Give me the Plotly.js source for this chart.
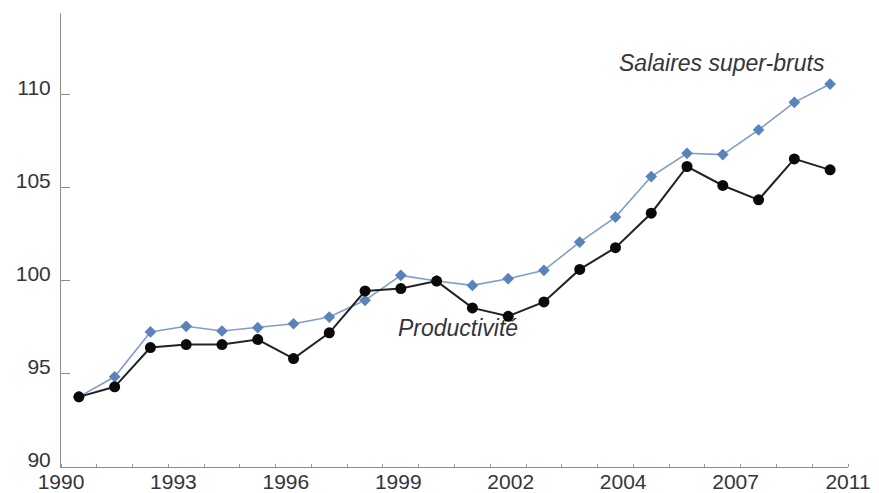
<!DOCTYPE html>
<html>
<head>
<meta charset="utf-8">
<script src="https://cdn.plot.ly/plotly-3.0.1.min.js"></script>
<style>html,body{margin:0;padding:0;background:#fff;}#chart{width:879px;height:493px;}</style>
</head>
<body>
<div id="chart"></div>
<script>
// Data
const years = [1990,1991,1992,1993,1994,1995,1996,1997,1998,1999,2000,2001,2002,2003,2004,2005,2006,2007,2008,2009,2010,2011];
const productivite = [93.77,94.31,96.42,96.58,96.58,96.85,95.83,97.21,99.46,99.59,99.99,98.55,98.10,98.87,100.62,101.79,103.64,106.15,105.13,104.36,106.56,105.97];
const salaires = [93.77,94.85,97.26,97.56,97.31,97.49,97.70,98.06,98.96,100.30,100.00,99.76,100.12,100.57,102.09,103.43,105.61,106.86,106.79,108.12,109.60,110.58];
const xTickLabels = ['1990','1993','1996','1999','2002','2004','2007','2011'];
const yTickValues = [90,95,100,105,110];
const seriesNames = ['Salaires super-bruts','Productivité'];

const xStart = years[0] - 0.5, xEnd = years[years.length-1] + 0.5;
const xTickPos = xTickLabels.map((_, i) => xStart + i * (xEnd - xStart) / (xTickLabels.length - 1));

const textColor = '#33343f';
const fontFam = '"Liberation Sans", Arial, sans-serif';

const traces = [
  {
    x: years, y: salaires, name: seriesNames[0], type: 'scatter', mode: 'lines+markers',
    line: {color: '#7f9dcb', width: 1.6},
    marker: {symbol: 'diamond', size: 9, color: '#5a83bb'},
    cliponaxis: false
  },
  {
    x: years, y: productivite, name: seriesNames[1], type: 'scatter', mode: 'lines+markers',
    line: {color: '#222222', width: 2},
    marker: {symbol: 'circle', size: 11, color: '#0a0a0a'},
    cliponaxis: false
  }
];

const layout = {
  width: 879, height: 493,
  margin: {l: 61, r: 31, t: 13, b: 26, pad: 0},
  paper_bgcolor: '#ffffff', plot_bgcolor: '#ffffff',
  showlegend: false,
  font: {family: fontFam, color: textColor, size: 21},
  xaxis: {
    range: [xStart, xEnd],
    tickmode: 'array', tickvals: xTickPos, ticktext: xTickLabels,
    ticks: '', showgrid: false, zeroline: false,
    showline: true, linecolor: '#8c8c8c', linewidth: 1,
    tickfont: {family: fontFam, size: 21, color: textColor},
    ticklabelstandoff: -4,
    minor: {tick0: xStart, dtick: 1, ticks: 'inside', ticklen: 3, tickcolor: '#9a9a9a', tickwidth: 1}
  },
  yaxis: {
    range: [90, 114.4],
    tickmode: 'array', tickvals: yTickValues,
    ticks: 'inside', ticklen: 9, tickcolor: '#8c8c8c', tickwidth: 1,
    showgrid: false, zeroline: false,
    showline: true, linecolor: '#8c8c8c', linewidth: 1,
    tickfont: {family: fontFam, size: 21, color: textColor},
    ticklabelstandoff: 5, ticklabelshift: -7
  },
  annotations: [
    {x: 2007.98, y: 111.73, xref: 'x', yref: 'y', text: '<i>' + seriesNames[0] + '</i>', showarrow: false,
     font: {family: fontFam, size: 23, color: textColor}},
    {x: 2000.6, y: 97.46, xref: 'x', yref: 'y', text: '<i>' + seriesNames[1] + '</i>', showarrow: false,
     font: {family: fontFam, size: 23, color: textColor}}
  ]
};

Plotly.newPlot('chart', traces, layout, {displayModeBar: false, staticPlot: true});
</script>
</body>
</html>
